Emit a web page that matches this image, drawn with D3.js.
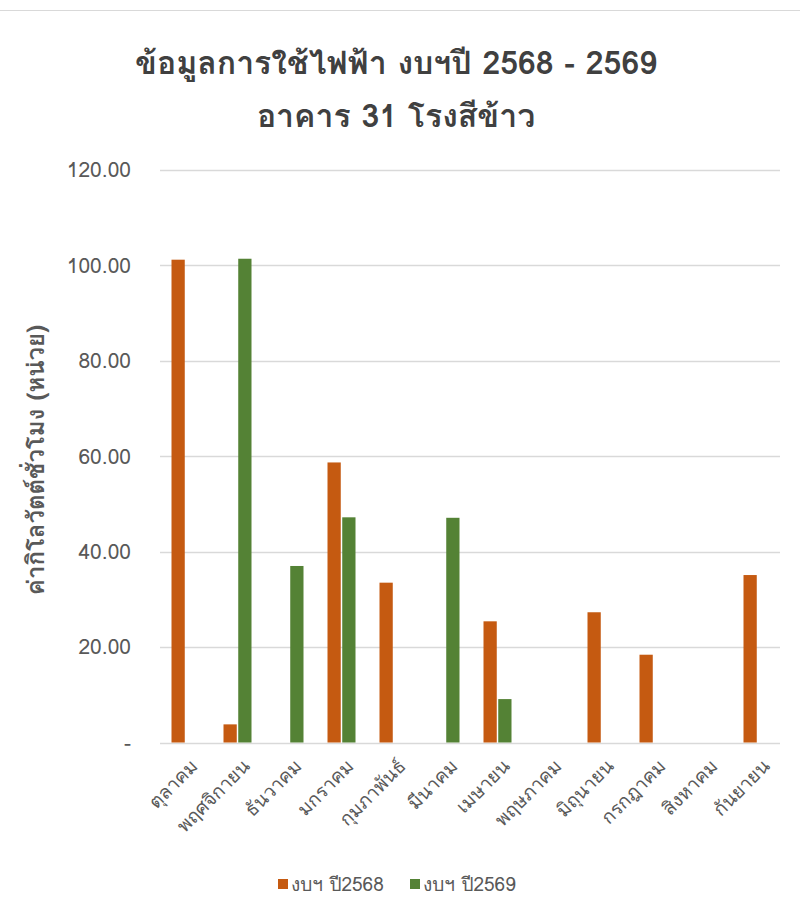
<!DOCTYPE html>
<html><head><meta charset="utf-8">
<script src="https://cdn.jsdelivr.net/npm/d3@7"></script>
<style>body{margin:0;background:#fff}svg{display:block}text{font-family:Tahoma,Loma,Garuda,"Noto Sans Thai Looped","Noto Sans","Noto Sans Thai",sans-serif}</style>
</head><body>
<script>
const categories = ["ตุลาคม","พฤศจิกายน","ธันวาคม","มกราคม","กุมภาพันธ์","มีนาคม","เมษายน","พฤษภาคม","มิถุนายน","กรกฎาคม","สิงหาคม","กันยายน"];
const series2568 = [101.2, 3.8, null, 58.7, 33.5, null, 25.4, null, 27.3, 18.4, null, 35.1];
const series2569 = [null, 101.4, 37.0, 47.2, null, 47.1, 9.1, null, null, null, null, null];
const seriesNames = ["งบฯ ปี2568", "งบฯ ปี2569"];
const colors = ["#C55A11", "#548235"];
const yTicks = [0, 20, 40, 60, 80, 100, 120];
const titleLines = ["ข้อมูลการใช้ไฟฟ้า งบฯปี 2568 - 2569", "อาคาร 31 โรงสีข้าว"];
const yTitle = "ค่ากิโลวัตต์ชั่วโมง (หน่วย)";

const W = 800, H = 911;
const svg = d3.select("body").append("svg").attr("width", W).attr("height", H);
svg.append("line").attr("x1",0).attr("x2",W).attr("y1",10.5).attr("y2",10.5).attr("stroke","#D9D9D9");

const x0 = d3.scaleBand().domain(categories).range([159.5, 783.5]);
const x1 = d3.scaleBand().domain([0,1]).range([x0.bandwidth()/2 - 14, x0.bandwidth()/2 + 14]).paddingInner(0.1);
const y = d3.scaleLinear().domain([0,120]).range([742.5, 170]);

svg.append("g").selectAll("line").data(yTicks).join("line")
  .attr("x1",160).attr("x2",780).attr("y1",d=>Math.round(y(d))+0.5).attr("y2",d=>Math.round(y(d))+0.5)
  .attr("stroke","#D9D9D9").attr("stroke-width",1.3);

svg.append("g").selectAll("text").data(yTicks).join("text")
  .attr("x",131).attr("y",d=>y(d)).attr("dy","0.35em").attr("text-anchor","end")
  .attr("fill","#595959").attr("font-size",21)
  .text(d=> d===0 ? "-" : d.toFixed(2));

const data = categories.map((c,i)=>({c, v:[series2568[i], series2569[i]]}));
const g = svg.append("g").selectAll("g").data(data).join("g").attr("transform",d=>`translate(${x0(d.c)},0)`);
g.selectAll("rect").data(d=>d.v.map((v,k)=>({v,k})).filter(e=>e.v!=null)).join("rect")
  .attr("x",e=>x1(e.k)).attr("width",x1.bandwidth())
  .attr("y",e=>y(e.v)).attr("height",e=>y(0)-y(e.v))
  .attr("fill",e=>colors[e.k]);

svg.append("g").selectAll("text").data(categories).join("text")
  .attr("transform",d=>`translate(${x0(d)+x0.bandwidth()/2+4},758) rotate(-45)`)
  .attr("text-anchor","end").attr("dy","0.7em").attr("fill","#595959").attr("font-size",19)
  .text(d=>d);

svg.append("g").selectAll("text").data(titleLines).join("text")
  .attr("x",396).attr("y",(d,i)=>74 + i*53).attr("text-anchor","middle")
  .attr("fill","#404040").attr("font-size",32).attr("font-weight","bold").text(d=>d);

svg.append("text").attr("transform","translate(44,460) rotate(-90)").attr("text-anchor","middle")
  .attr("fill","#595959").attr("font-size",24).attr("font-weight","bold").text(yTitle);

const lx = [278, 410];
const lg = svg.append("g").selectAll("g").data(seriesNames).join("g").attr("transform",(d,i)=>`translate(${lx[i]},884)`);
lg.append("rect").attr("x",0).attr("y",-5).attr("width",10).attr("height",10).attr("fill",(d,i)=>colors[i]);
lg.append("text").attr("x",13).attr("dy","0.35em").attr("fill","#595959").attr("font-size",19).text(d=>d);
</script>
</body></html>
